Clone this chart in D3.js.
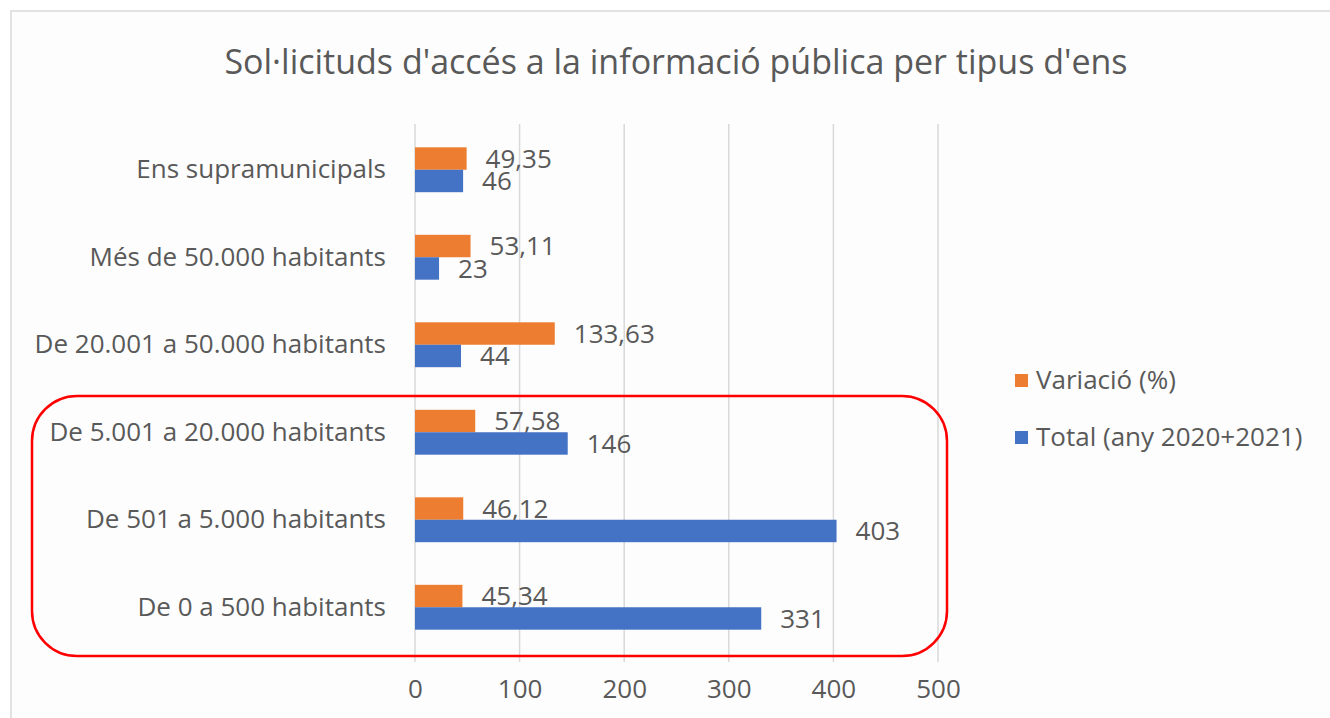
<!DOCTYPE html>
<html>
<head>
<meta charset="utf-8">
<script src="https://cdn.jsdelivr.net/npm/d3@7"></script>
<style>
  body { margin: 0; background: #fff; }
  svg { display: block; font-family: "Open Sans", sans-serif; }
</style>
</head>
<body>
<svg width="1330" height="718"></svg>
<script>
const categories = [
  "Ens supramunicipals",
  "Més de 50.000 habitants",
  "De 20.001 a 50.000 habitants",
  "De 5.001 a 20.000 habitants",
  "De 501 a 5.000 habitants",
  "De 0 a 500 habitants"
];
const variacio = [49.35, 53.11, 133.63, 57.58, 46.12, 45.34];
const total = [46, 23, 44, 146, 403, 331];
const xTicks = [0, 100, 200, 300, 400, 500];
const seriesNames = ["Variació (%)", "Total (any 2020+2021)"];

const color = {
  "var": "#ed7d31",
  "tot": "#4472c4",
  "text": "#595959",
  "grid": "#d9d9d9"
};

var svg = d3.select("svg");

// chart frame
svg.append("rect")
  .attr("x", 11).attr("y", 11)
  .attr("width", 1340).attr("height", 740)
  .attr("fill", "#fdfdfd")
  .attr("stroke", "#d9d9d9")
  .attr("stroke-width", 1.5);

svg.append("text")
  .attr("x", 676).attr("y", 74)
  .attr("text-anchor", "middle")
  .attr("fill", color.text)
  .style("font-size", "34px")
  .text("Sol·licituds d'accés a la informació pública per tipus d'ens");

var x = d3.scaleLinear().domain([0, 500]).range([415, 938]);
var y = d3.scaleBand().domain(categories).range([126, 651]);
var sub = d3.scaleBand().domain(["var", "tot"]).range([0, y.bandwidth()]).paddingInner(0).paddingOuter(0.95);

// gridlines
svg.append("g")
  .selectAll("line")
  .data(xTicks)
  .join("line")
  .attr("x1", d => x(d)).attr("x2", d => x(d))
  .attr("y1", 124).attr("y2", 662)
  .attr("stroke", color.grid)
  .attr("stroke-width", 1.5);

// x axis labels
var xAxis = svg.append("g")
  .attr("transform", "translate(0,662)")
  .call(d3.axisBottom(x).tickValues(xTicks).tickSize(0).tickPadding(18));
xAxis.select(".domain").remove();
xAxis.selectAll("text")
  .attr("fill", color.text)
  .style("font-size", "26px")
  .style("font-family", "'Open Sans', sans-serif");

// y axis labels
var yAxis = svg.append("g")
  .attr("transform", "translate(415,0)")
  .call(d3.axisLeft(y).tickSize(0).tickPadding(29));
yAxis.select(".domain").remove();
yAxis.selectAll("text")
  .attr("fill", color.text)
  .style("font-size", "26px")
  .style("font-family", "'Open Sans', sans-serif");

var rows = categories.map((c, i) => ({cat: c, var: variacio[i], tot: total[i]}));
var fmt = v => String(v).replace(".", ",");

["var", "tot"].forEach(function(key) {
  var g = svg.append("g");
  g.selectAll("rect")
    .data(rows)
    .join("rect")
    .attr("x", x(0))
    .attr("y", d => y(d.cat) + sub(key))
    .attr("width", d => x(d[key]) - x(0))
    .attr("height", sub.bandwidth())
    .attr("fill", color[key]);
  g.selectAll("text")
    .data(rows)
    .join("text")
    .attr("x", d => x(d[key]) + 19)
    .attr("y", d => y(d.cat) + sub(key) + sub.bandwidth() / 2)
    .attr("dy", "0.35em")
    .attr("fill", color.text)
    .style("font-size", "26px")
    .text(d => fmt(d[key]));
});

// legend
var legend = svg.append("g");
seriesNames.forEach(function(name, i) {
  var key = i === 0 ? "var" : "tot";
  var ly = 380 + i * 57;
  legend.append("rect")
    .attr("x", 1015).attr("y", ly - 6)
    .attr("width", 13).attr("height", 13)
    .attr("fill", color[key]);
  legend.append("text")
    .attr("x", 1036).attr("y", ly)
    .attr("dy", "0.35em")
    .attr("fill", color.text)
    .style("font-size", "26px")
    .text(name);
});

// red highlight box
svg.append("rect")
  .attr("x", 32).attr("y", 396)
  .attr("width", 915).attr("height", 260)
  .attr("rx", 45).attr("ry", 45)
  .attr("fill", "none")
  .attr("stroke", "#ff0000")
  .attr("stroke-width", 2.5);
</script>
</body>
</html>
